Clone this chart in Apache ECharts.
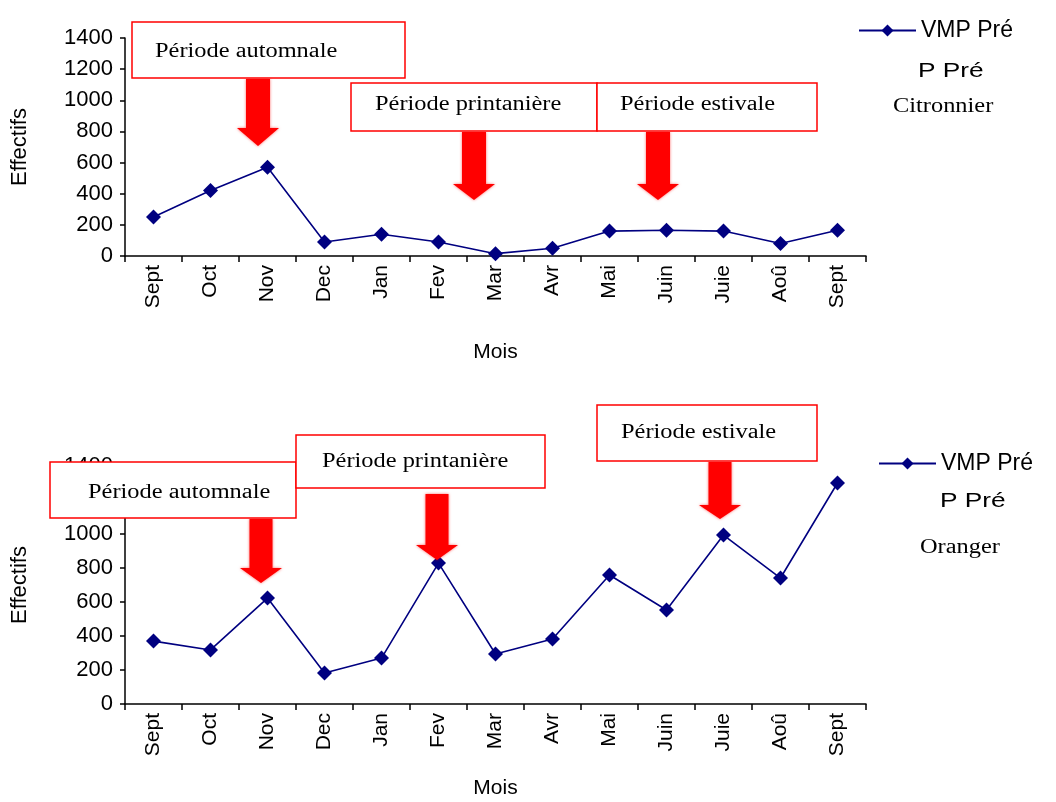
<!DOCTYPE html>
<html>
<head>
<meta charset="utf-8">
<script src="https://cdn.jsdelivr.net/npm/echarts@6/dist/echarts.min.js"></script>
<style>
  html, body { margin: 0; padding: 0; background: #ffffff; }
  #chart { width: 1056px; height: 802px; }
</style>
</head>
<body>
<div id="chart"></div>
<script>
// Months of the sampling year (Sept to Sept)
const months = ['Sept', 'Oct', 'Nov', 'Dec', 'Jan', 'Fev', 'Mar', 'Avr', 'Mai', 'Juin', 'Juie', 'Aoû', 'Sept'];
// Monthly counts (Effectifs) on lemon trees
const citronnier = [250, 420, 570, 90, 140, 90, 15, 50, 160, 165, 160, 80, 165];
// Monthly counts (Effectifs) on orange trees
const oranger = [370, 318, 623, 182, 270, 829, 294, 382, 759, 553, 994, 741, 1300];
// Shared y-axis scale
const yMin = 0, yMax = 1400, yStep = 200;
const seriesName = 'VMP Pré';

const NAVY = '#000080';
const RED = '#ff0000';
const SANS = '"Liberation Sans", Arial, sans-serif';
const SERIF = '"Liberation Serif", "Times New Roman", serif';

const chart = echarts.init(document.getElementById('chart'), null, { renderer: 'canvas' });

function xAxis(gridIndex, nameGap) {
  return {
    type: 'category', gridIndex: gridIndex, data: months, boundaryGap: true,
    name: 'Mois', nameLocation: 'middle', nameGap: nameGap,
    nameTextStyle: { fontFamily: SANS, fontSize: 21, color: '#000' },
    axisLine: { lineStyle: { color: '#000', width: 1.5 } },
    axisTick: { show: true, length: 6, lineStyle: { color: '#000', width: 1.5 } },
    axisLabel: { rotate: 90, margin: 9, fontFamily: SANS, fontSize: 21, color: '#000', interval: 0 }
  };
}
function yAxis(gridIndex) {
  return {
    type: 'value', gridIndex: gridIndex, min: yMin, max: yMax, interval: yStep,
    name: 'Effectifs', nameLocation: 'middle', nameGap: 94, nameRotate: 90,
    nameTextStyle: { fontFamily: SANS, fontSize: 22, color: '#000' },
    axisLine: { show: true, lineStyle: { color: '#000', width: 1.5 } },
    axisTick: { show: true, length: 5, lineStyle: { color: '#000', width: 1.5 } },
    axisLabel: { margin: 12, fontFamily: SANS, fontSize: 22, color: '#000',
                 formatter: function (v) { return String(v); } },
    splitLine: { show: false }
  };
}
function lineSeries(idx, values) {
  return {
    name: seriesName, type: 'line', xAxisIndex: idx, yAxisIndex: idx, data: values,
    symbol: 'diamond', symbolSize: 15, showSymbol: true,
    lineStyle: { color: NAVY, width: 1.6 },
    itemStyle: { color: NAVY },
    animation: false
  };
}

// Red-framed period label
function labelBox(x, y, w, h, text, tx, ty) {
  return [
    { type: 'rect', z: 100, shape: { x: x, y: y, width: w, height: h },
      style: { fill: '#fff', stroke: RED, lineWidth: 1.5 } },
    { type: 'text', z: 101, x: tx, y: ty, scaleX: 1.22,
      style: { text: text, x: 0, y: 0, fill: '#000', font: '20px ' + SERIF,
               textAlign: 'left', textVerticalAlign: 'middle', align: 'left', verticalAlign: 'middle' } }
  ];
}
// Thick red downward arrow
function arrow(cx, top, headTop, tip, shaftHalf, headHalf) {
  return { type: 'polygon', z: 99,
    shape: { points: [
      [cx - shaftHalf, top], [cx + shaftHalf, top], [cx + shaftHalf, headTop],
      [cx + headHalf, headTop], [cx, tip], [cx - headHalf, headTop], [cx - shaftHalf, headTop]
    ] },
    style: { fill: RED, shadowBlur: 3, shadowColor: 'rgba(255,0,0,0.6)' } };
}
// Free text line, optionally stretched horizontally
function plainText(x, y, text, font, sx) {
  return { type: 'text', z: 101, x: x, y: y, scaleX: sx || 1,
    style: { text: text, x: 0, y: 0, fill: '#000', font: font,
             textAlign: 'left', textVerticalAlign: 'middle', align: 'left', verticalAlign: 'middle' } };
}

const graphics = [].concat(
  labelBox(132, 22, 273, 56, 'Période automnale', 155, 52),
  labelBox(351, 83, 246, 48, 'Période printanière', 375, 105),
  labelBox(597, 83, 220, 48, 'Période estivale', 620, 105),
  [arrow(258, 79, 128, 146, 12, 21), arrow(474, 132, 184, 200, 12, 21), arrow(658, 132, 184, 200, 12, 21)],
  labelBox(50, 462, 246, 56, 'Période automnale', 88, 493),
  labelBox(296, 435, 249, 53, 'Période printanière', 322, 462),
  labelBox(597, 405, 220, 56, 'Période estivale', 621, 433),
  [arrow(261, 519, 568, 583, 11.5, 21), arrow(437, 494, 545, 560, 11.5, 21), arrow(720, 462, 505, 519, 11.5, 21)],
  [plainText(918, 71, 'P Pré', '21px ' + SANS, 1.25),
   plainText(893, 107, 'Citronnier', '20px ' + SERIF, 1.22),
   plainText(940, 501, 'P Pré', '21px ' + SANS, 1.25),
   plainText(920, 548, 'Oranger', '20px ' + SERIF, 1.22)]
);

const legendBase = {
  data: [seriesName], itemWidth: 57, itemHeight: 15, itemGap: 5,
  textStyle: { fontFamily: SANS, fontSize: 23, color: '#000' }, selectedMode: false
};

chart.setOption({
  backgroundColor: '#fff',
  animation: false,
  grid: [
    { left: 125, right: 190, top: 38, height: 218, containLabel: false },
    { left: 125, right: 190, top: 466, height: 238, containLabel: false }
  ],
  xAxis: [xAxis(0, 86), xAxis(1, 74)],
  yAxis: [yAxis(0), yAxis(1)],
  legend: [
    Object.assign({}, legendBase, { left: 853, top: 14 }),
    Object.assign({}, legendBase, { left: 873, top: 447 })
  ],
  series: [lineSeries(0, citronnier), lineSeries(1, oranger)],
  graphic: graphics
});
</script>
</body>
</html>
